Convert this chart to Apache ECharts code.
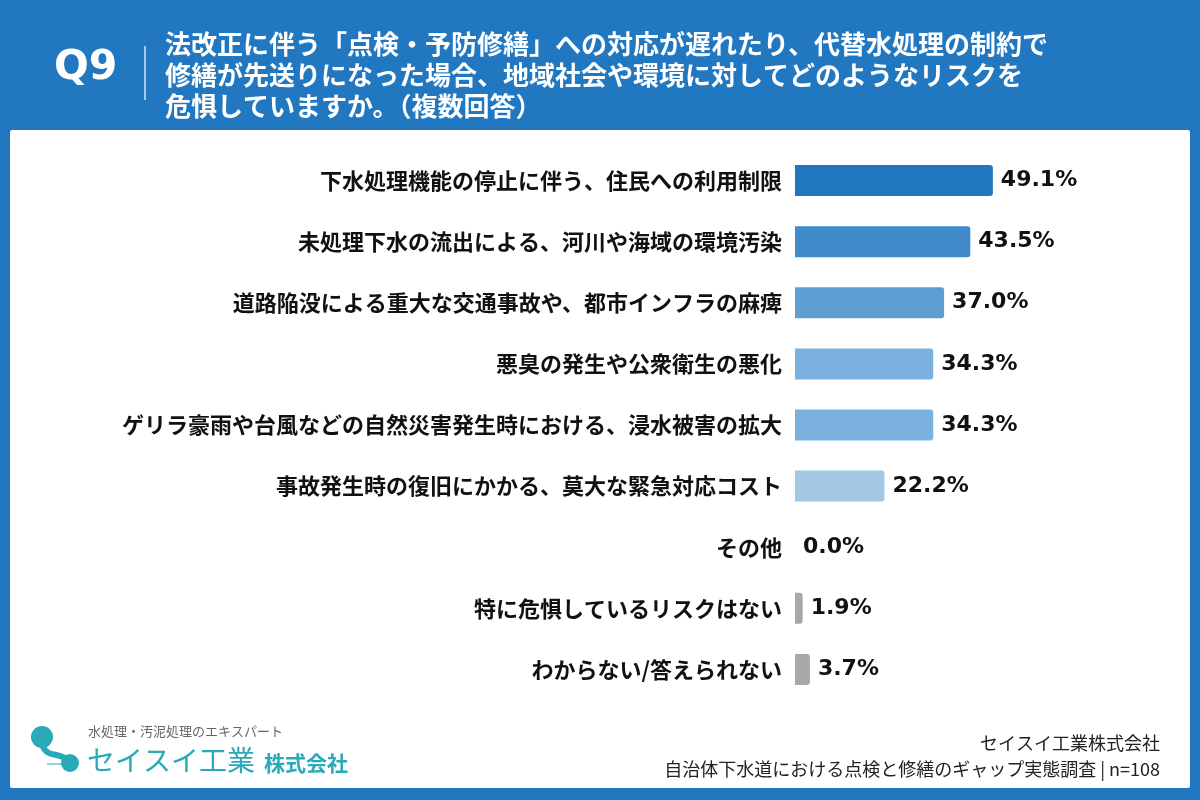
<!DOCTYPE html>
<html><head><meta charset="utf-8">
<script src="https://cdn.jsdelivr.net/npm/echarts@6/dist/echarts.min.js"></script>
<style>html,body{margin:0;padding:0;background:#2178c0}#c{width:1200px;height:800px}</style>
</head><body><div id="c"></div>
<script>
const categories = [
  '下水処理機能の停止に伴う、住民への利用制限',
  '未処理下水の流出による、河川や海域の環境汚染',
  '道路陥没による重大な交通事故や、都市インフラの麻痺',
  '悪臭の発生や公衆衛生の悪化',
  'ゲリラ豪雨や台風などの自然災害発生時における、浸水被害の拡大',
  '事故発生時の復旧にかかる、莫大な緊急対応コスト',
  'その他',
  '特に危惧しているリスクはない',
  'わからない/答えられない'
];
const values = [49.1, 43.5, 37.0, 34.3, 34.3, 22.2, 0.0, 1.9, 3.7];
const barColors = ['#2077bf', '#3f8bca', '#5d9fd2', '#7bb1de', '#7bb1de', '#a2c8e3', '#a8a8a8', '#a8a8a8', '#a8a8a8'];
const titleLines = [
  '法改正に伴う「点検・予防修繕」への対応が遅れたり、代替水処理の制約で',
  '修繕が先送りになった場合、地域社会や環境に対してどのようなリスクを',
  '危惧していますか。（複数回答）'
];
const sourceLines = ['セイスイ工業株式会社', '自治体下水道における点検と修繕のギャップ実態調査 | n=108'];

const JP = '"Noto Sans CJK JP", "Noto Sans", sans-serif';
const chart = echarts.init(document.getElementById('c'));
const teal = '#2aa9b9';
chart.setOption({
  backgroundColor: '#2178c0',
  animation: false,
  grid: { left: 795, top: 150, width: 403, height: 550, containLabel: false },
  xAxis: { type: 'value', min: 0, max: 100, show: false },
  yAxis: {
    type: 'category', data: categories, inverse: true,
    axisLine: { show: false }, axisTick: { show: false },
    axisLabel: { fontFamily: JP, fontWeight: 'bold', fontSize: 22, color: '#111', margin: 13 }
  },
  series: [{
    type: 'bar', barWidth: 31,
    data: values.map((v, i) => ({ value: v, itemStyle: { color: barColors[i] } })),
    itemStyle: { borderRadius: [0, 3, 3, 0] },
    label: {
      show: true, position: 'right', distance: 8,
      formatter: p => p.value.toFixed(1) + '%',
      fontFamily: '"DejaVu Sans", sans-serif', fontWeight: 'bold', fontSize: 22, color: '#111'
    }
  }],
  graphic: [
    { type: 'rect', z: -10, shape: { x: 10, y: 130, width: 1180, height: 658, r: 2 }, style: { fill: '#ffffff' } },
    { type: 'text', left: 54, top: 48, style: { text: 'Q9', fill: '#fff', font: 'bold 41px "DejaVu Sans", sans-serif' } },
    { type: 'line', shape: { x1: 145, y1: 46, x2: 145, y2: 100 }, style: { stroke: '#ffffff', lineWidth: 1.5, opacity: 0.8 } },
    ...titleLines.map((t, i) => ({ type: 'text', left: 165, top: 31 + i * 31, style: { text: t, fill: '#fff', font: 'bold 26px ' + JP } })),
    // logo
    { type: 'circle', shape: { cx: 42, cy: 737, r: 11 }, style: { fill: teal } },
    { type: 'circle', shape: { cx: 70, cy: 763, r: 9 }, style: { fill: teal } },
    { type: 'bezierCurve', shape: { x1: 42, y1: 744, x2: 66, y2: 759, cpx1: 46, cpy1: 758, cpx2: 57, cpy2: 752 }, style: { stroke: teal, lineWidth: 6, fill: null } },
    { type: 'line', shape: { x1: 47, y1: 764, x2: 62, y2: 764 }, style: { stroke: teal, lineWidth: 1.5, opacity: 0.7 } },
    { type: 'text', left: 88, top: 725, style: { text: '水処理・汚泥処理のエキスパート', fill: '#666', font: '13px ' + JP } },
    { type: 'text', left: 87, top: 746, style: { text: 'セイスイ工業', fill: teal, font: '28px ' + JP } },
    { type: 'text', left: 264, top: 753, style: { text: '株式会社', fill: teal, font: 'bold 21px ' + JP } },
    // source
    ...sourceLines.map((t, i) => ({ type: 'text', right: 40, top: 734 + i * 26, style: { text: t, fill: '#222', font: '18px ' + JP, align: 'right' } }))
  ]
});
</script></body></html>
